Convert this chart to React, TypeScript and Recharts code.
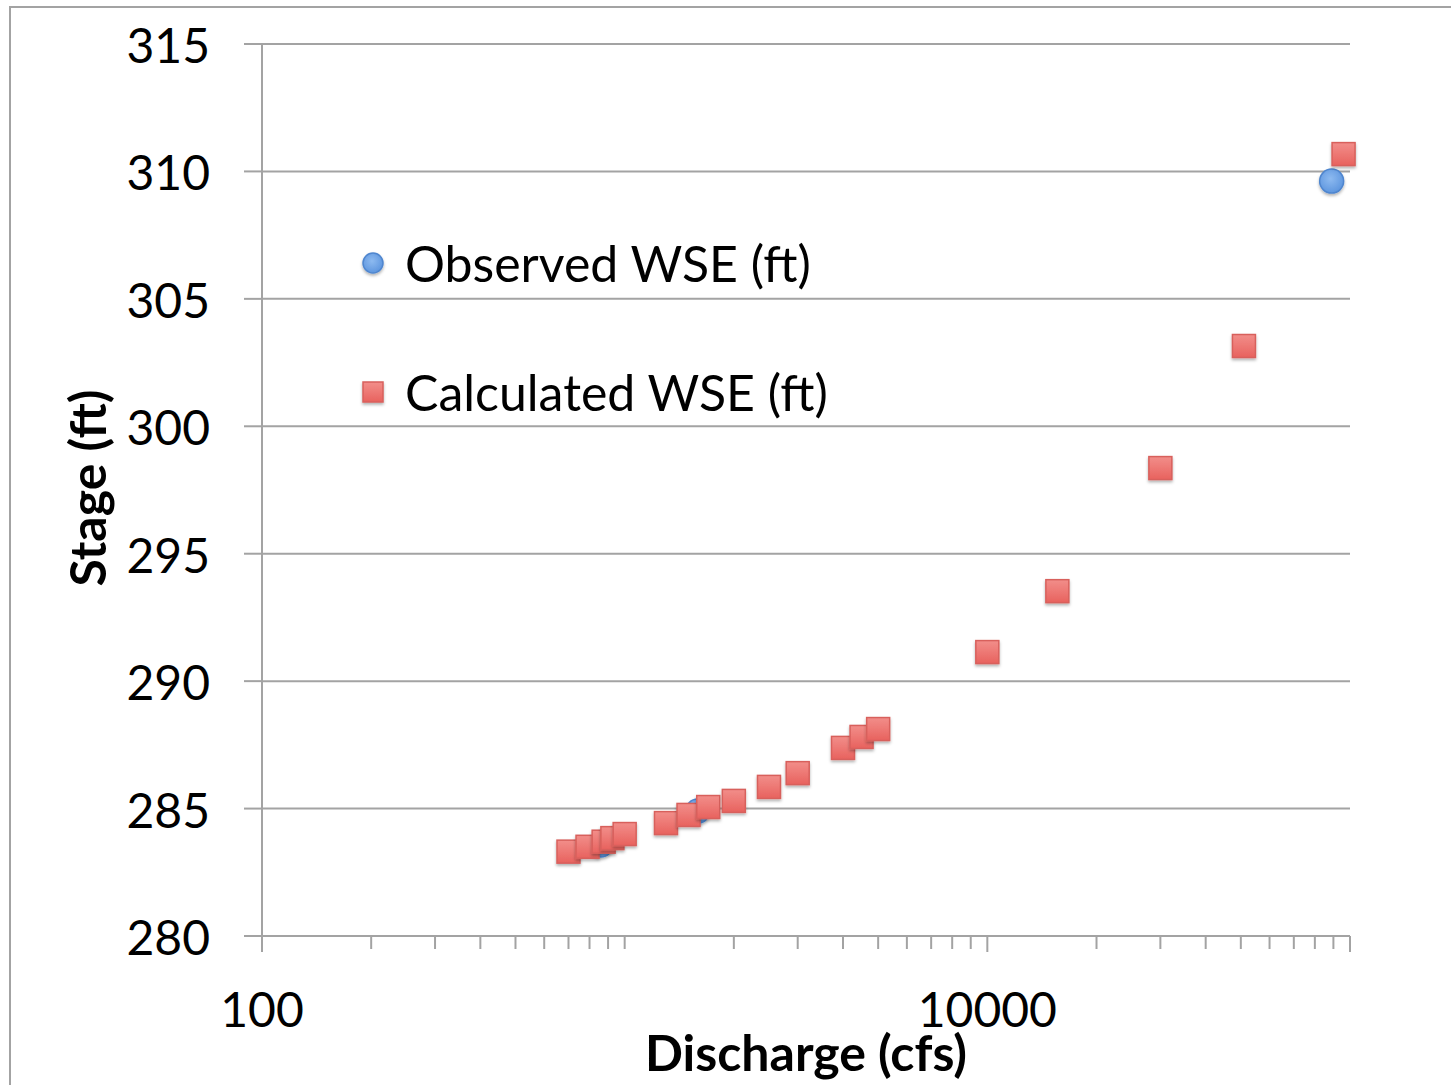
import React from "react";
import { ScatterChart, Scatter, XAxis, YAxis, CartesianGrid, Legend } from "recharts";

// Calculated rating curve (discharge in cfs, water surface elevation in ft)
const calcDischarge = [700, 790, 875, 925, 1000, 1300, 1500, 1700, 2000, 2500, 3000, 4000, 4500, 5000, 10000, 15600, 30000, 51000, 96000];
const calcStage = [283.31, 283.5, 283.7, 283.84, 284.0, 284.43, 284.75, 285.06, 285.3, 285.85, 286.39, 287.38, 287.81, 288.12, 291.14, 293.53, 298.36, 303.15, 310.68];

// Observed gauge readings
const obsDischarge = [860, 1590, 89000];
const obsStage = [283.57, 284.9, 309.62];

const stageTicks = [280, 285, 290, 295, 300, 305, 310, 315];
const majorTicks = [100, 10000, 100000];
const labeledTicks = [100, 10000];
const minorMultipliers = [2, 3, 4, 5, 6, 7, 8, 9];
const decades = [100, 1000, 10000];

const dischargeTicks = [
  ...decades.flatMap((d) => [d, ...minorMultipliers.map((m) => m * d)]),
  100000,
];

const calculated = calcDischarge.map((q, i) => ({ q, stage: calcStage[i] }));
const observed = obsDischarge.map((q, i) => ({ q, stage: obsStage[i] }));

const GRID = "#a3a3a3";
const FONT = "Lato, 'Open Sans', sans-serif";

// marker props are named side/radius so Scatter's own size/r props don't override them
const SquareMarker = ({ cx, cy, side = 23 }: any) => (
  <rect
    x={cx - side / 2}
    y={cy - side / 2}
    width={side}
    height={side}
    fill="url(#redFill)"
    stroke="#d8605c"
    strokeWidth={1.5}
    filter="url(#markerShadow)"
  />
);

const CircleMarker = ({ cx, cy, radius = 12 }: any) => (
  <circle cx={cx} cy={cy} r={radius} fill="url(#blueFill)" stroke="#4f86cf" strokeWidth={1.5} filter="url(#markerShadow)" />
);

const XTick = ({ x, y, payload }: any) => {
  const v = payload.value;
  const major = majorTicks.includes(v);
  return (
    <g>
      <line x1={x} x2={x} y1={y} y2={y + (major ? 16 : 13)} stroke={GRID} strokeWidth={2} />
      {labeledTicks.includes(v) && (
        <text x={x} y={y + 91} textAnchor="middle" fontSize={48} fontFamily={FONT} fill="#000">
          {v}
        </text>
      )}
    </g>
  );
};

const YTick = ({ x, y, payload }: any) => (
  <text x={x} y={y + 19} textAnchor="end" fontSize={48} fontFamily={FONT} fill="#000">
    {payload.value}
  </text>
);

const renderLegend = () => (
  <svg width={540} height={220}>
    <CircleMarker cx={23} cy={43} radius={10} />
    <text x={55} y={62} fontSize={50} fontFamily={FONT} fill="#000">
      Observed WSE (ft)
    </text>
    <SquareMarker cx={23} cy={172} side={20} />
    <text x={55} y={191} fontSize={50} fontFamily={FONT} fill="#000">
      Calculated WSE (ft)
    </text>
  </svg>
);

export default function App() {
  return (
    <div style={{ position: "absolute", left: 0, top: 0, width: 1451, height: 1085, overflow: "hidden", background: "#fff" }}>
      <div
        style={{
          position: "absolute",
          left: 9,
          top: 6,
          width: 1520,
          height: 1120,
          border: `2px solid ${GRID}`,
        }}
      />
      <div style={{ position: "absolute", left: 0, top: 0 }}>
        <ScatterChart width={1451} height={1085} margin={{ top: 44, right: 101, bottom: 49, left: 62 }}>
          <defs>
            <linearGradient id="redFill" x1="0" y1="0" x2="0" y2="1">
              <stop offset="0%" stopColor="#f28e8a" />
              <stop offset="100%" stopColor="#e8625e" />
            </linearGradient>
            <radialGradient id="blueFill" cx="45%" cy="40%" r="65%">
              <stop offset="0%" stopColor="#8dbaf0" />
              <stop offset="100%" stopColor="#5a93dd" />
            </radialGradient>
            <filter id="markerShadow" x="-40%" y="-40%" width="180%" height="180%">
              <feDropShadow dx={0} dy={2} stdDeviation={1.6} floodColor="#000" floodOpacity={0.3} />
            </filter>
          </defs>
          <CartesianGrid vertical={false} stroke={GRID} strokeWidth={2} />
          <XAxis
            type="number"
            dataKey="q"
            scale="log"
            domain={[100, 100000]}
            ticks={dischargeTicks}
            interval={0}
            height={100}
            tickSize={0}
            tickMargin={0}
            tickLine={false}
            tick={<XTick />}
            axisLine={{ stroke: GRID, strokeWidth: 2 }}
            label={{
              content: ({ viewBox }: any) => (
                <text
                  x={viewBox.x + viewBox.width / 2}
                  y={viewBox.y + 135}
                  textAnchor="middle"
                  fontSize={50}
                  fontWeight="bold"
                  fontFamily={FONT}
                  fill="#000"
                >
                  Discharge (cfs)
                </text>
              ),
            }}
          />
          <YAxis
            type="number"
            dataKey="stage"
            domain={[280, 315]}
            ticks={stageTicks}
            interval={0}
            width={200}
            tickSize={18}
            tickMargin={34}
            tickLine={{ stroke: GRID, strokeWidth: 2 }}
            tick={<YTick />}
            axisLine={{ stroke: GRID, strokeWidth: 2 }}
            label={{
              content: ({ viewBox }: any) => {
                const cx = viewBox.x + 44;
                const cy = viewBox.y + viewBox.height / 2 - 2;
                return (
                  <text
                    x={cx}
                    y={cy}
                    transform={`rotate(-90, ${cx}, ${cy})`}
                    textAnchor="middle"
                    fontSize={50}
                    fontWeight="bold"
                    fontFamily={FONT}
                    fill="#000"
                  >
                    Stage (ft)
                  </text>
                );
              },
            }}
          />
          {/* vertical + centered + middle keeps the legend from reserving chart space */}
          <Legend
            layout="vertical"
            align="center"
            verticalAlign="middle"
            content={renderLegend}
            wrapperStyle={{ position: "absolute", left: 350, top: 220, width: 540, height: 220 }}
          />
          <Scatter name="Observed WSE (ft)" data={observed} shape={<CircleMarker />} isAnimationActive={false} />
          <Scatter name="Calculated WSE (ft)" data={calculated} shape={<SquareMarker />} isAnimationActive={false} />
        </ScatterChart>
      </div>
    </div>
  );
}
